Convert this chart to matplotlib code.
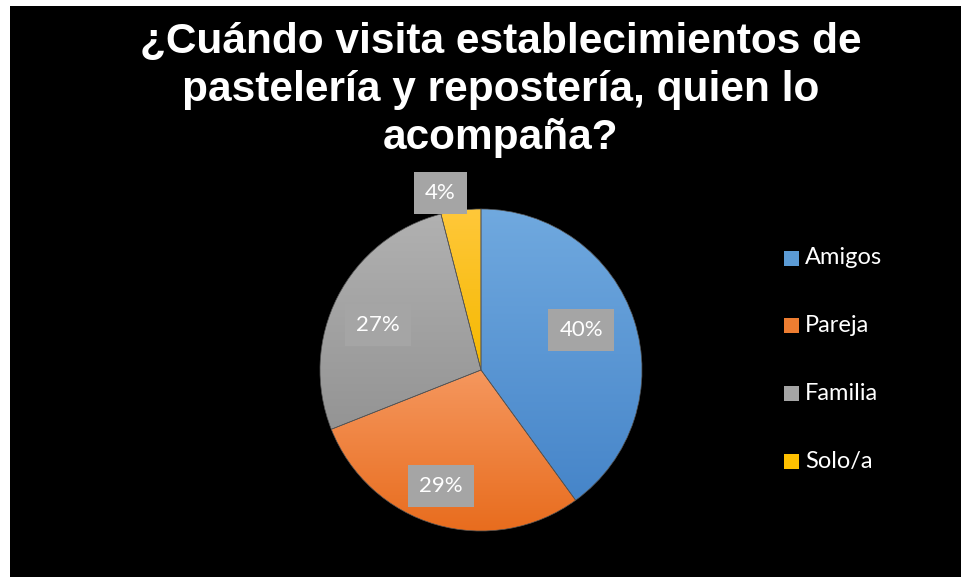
import matplotlib.pyplot as plt
import numpy as np
from matplotlib.patches import Rectangle

# porcentajes de cada respuesta
categorias = ["Amigos", "Pareja", "Familia", "Solo/a"]
porcentajes = [40, 29, 27, 4]
titulo = "¿Cuándo visita establecimientos de\npastelería y repostería, quien lo\nacompaña?"

# color claro (arriba) y oscuro (abajo) del degradado de cada porción
colores_claro = ["#70a9df", "#f5975e", "#b1b1b1", "#ffc83a"]
colores_oscuro = ["#4685c9", "#e86c1d", "#949494", "#f5b800"]
color_leyenda = ["#5b9bd5", "#ed7d31", "#a5a5a5", "#ffc000"]

# posicion de las etiquetas (angulo en grados, radio relativo)
pos_etiquetas = [(21.8, 0.67), (-109.0, 0.76), (156.6, 0.70), (103.0, 1.13)]


def degradado(c1, c2, n=256):
    a = np.array(plt.matplotlib.colors.to_rgb(c1))
    b = np.array(plt.matplotlib.colors.to_rgb(c2))
    t = np.linspace(0, 1, n)[:, None]
    return (a * (1 - t) + b * t)[:, None, :]


fig = plt.figure(figsize=(9.61, 5.77), dpi=100)
fig.patch.set_facecolor("white")
W, H = 961, 577
fig.patches.append(Rectangle((10 / W, 0), 1, 1 - 6 / H, transform=fig.transFigure,
                             facecolor="black", edgecolor="none", zorder=-5))

cx, cy, r = 481, 370, 161
ax = fig.add_axes([(cx - r) / W, (H - cy - r) / H, 2 * r / W, 2 * r / H])
ax.set_facecolor("none")
ax.set_zorder(2)

wedges, _ = ax.pie(porcentajes, startangle=90, counterclock=False, radius=1,
                   wedgeprops=dict(linewidth=0.5, edgecolor="#555555"))
ax.set_aspect("equal")
ax.axis("off")

# relleno en degradado vertical, recortado a cada porción
for w, c1, c2 in zip(wedges, colores_claro, colores_oscuro):
    w.set_facecolor("none")
    verts = w.get_path().vertices
    ymin, ymax = verts[:, 1].min(), verts[:, 1].max()
    xmin, xmax = verts[:, 0].min(), verts[:, 0].max()
    im = ax.imshow(degradado(c1, c2), extent=(xmin, xmax, ymin, ymax),
                   aspect="auto", origin="upper", zorder=1)
    im.set_clip_path(w)
    w.set_zorder(2)
ax.set_xlim(-1, 1)
ax.set_ylim(-1, 1)

for p, (ang, rr) in zip(porcentajes, pos_etiquetas):
    t = np.deg2rad(ang)
    ax.text(rr * np.cos(t), rr * np.sin(t), f"{p}%", ha="center", va="center",
            fontsize=16, color="white", family="Lato", zorder=5, clip_on=False,
            bbox=dict(boxstyle="square,pad=0.5", facecolor="#a5a5a5", edgecolor="none"))

fig.text(501 / W, 1 - 90 / H, titulo, ha="center", va="center", color="white",
         fontsize=30.5, fontweight="bold", family="Liberation Sans", linespacing=1.25)

# leyenda a la derecha
for i, (cat, col) in enumerate(zip(categorias, color_leyenda)):
    yc = 258 + i * 67.7
    fig.patches.append(Rectangle((784 / W, 1 - (yc + 7.5) / H), 15 / W, 15 / H,
                                 transform=fig.transFigure, facecolor=col, edgecolor="none"))
    fig.text(805 / W, 1 - yc / H, cat, ha="left", va="center", color="white",
             fontsize=17, family="Lato")

fig.savefig("out.png", dpi=100, facecolor=fig.get_facecolor())
